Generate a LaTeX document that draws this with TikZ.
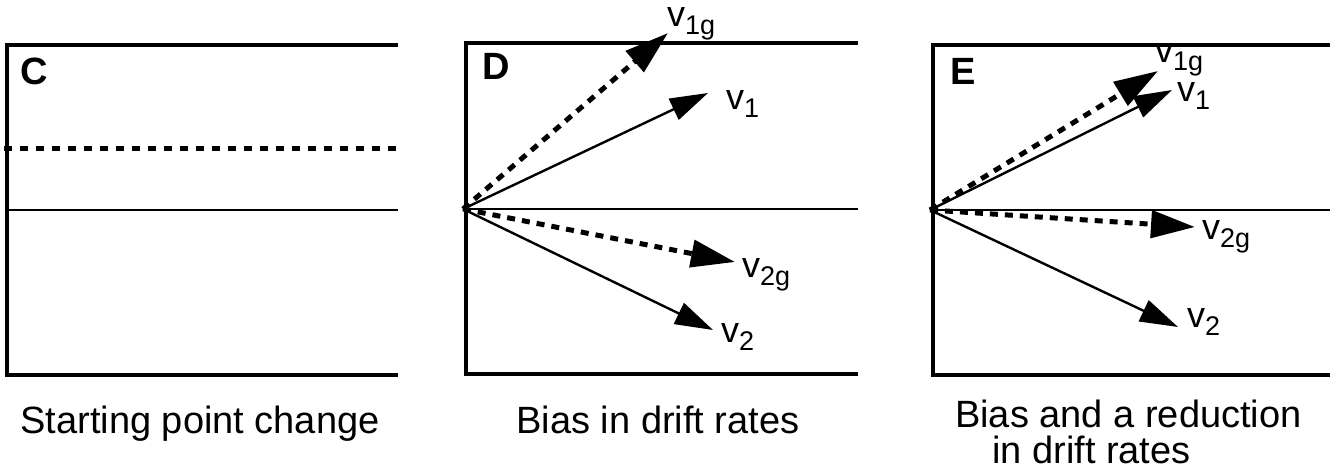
\documentclass[tikz,border=0pt]{standalone}
\usepackage{fontspec}
\setmainfont{Liberation Sans}
\usetikzlibrary{arrows.meta}
\newcommand{\vlab}[1]{{\fontsize{36}{36}\selectfont v}{\fontsize{27}{27}\selectfont\raisebox{-8pt}{#1}}}
\begin{document}
\begin{tikzpicture}[x=1pt,y=-1pt,
  frame/.style={line width=3.5pt},
  midline/.style={line width=2.8pt},
  drift/.style={line width=2.4pt,-{Triangle[length=38pt,width=23pt]}},
  gdrift/.style={line width=5pt,dash pattern=on 8pt off 7pt,-{Triangle[length=44pt,width=27pt]}},
  panel/.style={font=\fontsize{38}{38}\selectfont\bfseries,anchor=base west,inner sep=0pt},
  vl/.style={anchor=base west,inner sep=0pt},
  captext/.style={font=\fontsize{38}{36}\selectfont,anchor=base,inner sep=0pt}]
\useasboundingbox (0,0) rectangle (1330,470);
% Panel C
\draw[frame] (398,45) -- (7,45) -- (7,375) -- (398,375);
\draw[midline] (7,210) -- (398,210);
\draw[line width=5pt,dash pattern=on 8pt off 8pt] (4,149) -- (402,149);
\node[panel] (labC) at (20,85) {C};
% Panel D
\draw[frame] (858,43) -- (466,43) -- (466,374) -- (858,374);
\draw[midline] (466,209) -- (858,209);
\node[panel] (labD) at (482,80) {D};
\coordinate (oD) at (463,209);
\coordinate (d1g) at (668,33);
\coordinate (d1) at (708,93);
\coordinate (d2g) at (735,262);
\coordinate (d2) at (713,330);
\draw[gdrift] (oD) -- (d1g);
\draw[drift] (oD) -- (d1);
\draw[gdrift] (oD) -- (d2g);
\draw[drift] (oD) -- (d2);
\node[vl] (vD1g) at (667,27) {\vlab{1g}};
\node[vl] (vD1) at (726,110) {\vlab{1}};
\node[vl] (vD2g) at (742,277) {\vlab{2g}};
\node[vl] (vD2) at (721,342) {\vlab{2}};
% Panel E
\draw[frame] (1330,45) -- (933,45) -- (933,375) -- (1330,375);
\draw[midline] (933,210) -- (1330,210);
\node[panel] (labE) at (950,85) {E};
\coordinate (oE) at (930,210);
\coordinate (e1g) at (1158,71);
\coordinate (e1) at (1172,90);
\coordinate (e2g) at (1195,227);
\coordinate (e2) at (1178,327);
\draw[gdrift] (oE) -- (e1g);
\draw[drift] (oE) -- (e1);
\draw[gdrift] (oE) -- (e2g);
\draw[drift] (oE) -- (e2);
\node[vl] (vE1g) at (1155,63) {\vlab{1g}};
\node[vl] (vE1) at (1177,102) {\vlab{1}};
\node[vl] (vE2g) at (1202,240) {\vlab{2g}};
\node[vl] (vE2) at (1187,327) {\vlab{2}};
% Captions
\node[captext] (capC) at (200,433) {Starting point change};
\node[captext] (capD) at (658,433) {Bias in drift rates};
\node[captext,align=left,anchor=north west] (capE) at (955,400) {Bias and a reduction\\\hspace*{37pt}in drift rates};
\end{tikzpicture}
\end{document}
